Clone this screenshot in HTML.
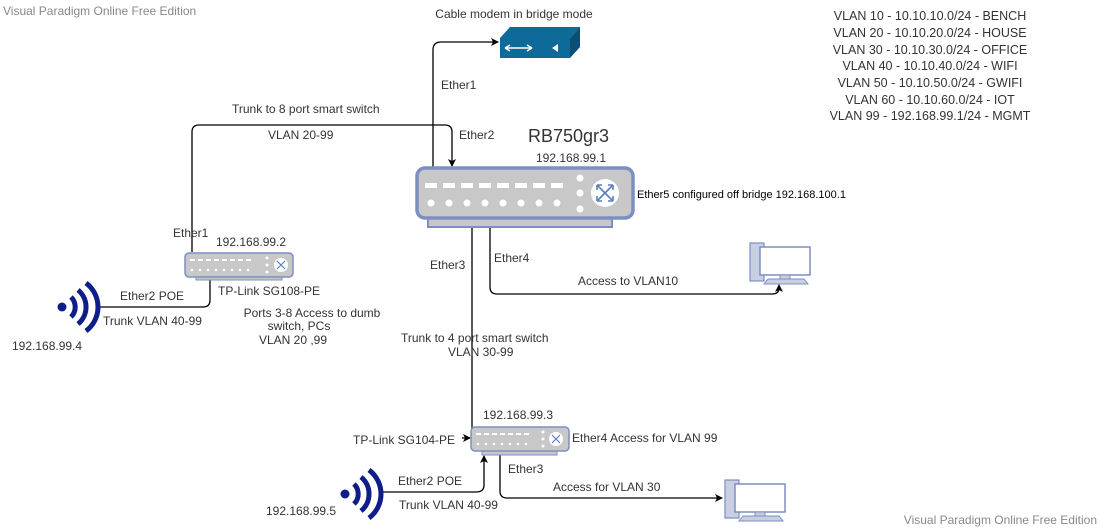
<!DOCTYPE html>
<html><head><meta charset="utf-8"><style>
body{margin:0;background:#fff;}
svg{display:block;font-family:"Liberation Sans",sans-serif;}
</style></head><body>
<svg width="1101" height="530" viewBox="0 0 1101 530" xmlns="http://www.w3.org/2000/svg">
<defs>
<marker id="a" markerWidth="8" markerHeight="8" refX="7" refY="4" orient="auto" markerUnits="userSpaceOnUse"><path d="M0,0 L8,4 L0,8 L2,4 z" fill="#000"/></marker>
<g id="pc">
<rect x="0" y="0" width="14" height="38" fill="#c8cfe0" stroke="#7d8fc0" stroke-width="1.2"/>
<rect x="10" y="4" width="50" height="28" fill="#fff" stroke="#7d8fc0" stroke-width="1.5"/>
<rect x="30" y="32" width="10" height="4" fill="#c8cfe0" stroke="#7d8fc0"/>
<path d="M18,36 L54,36 L58,41 L14,41 z" fill="#c8cfe0" stroke="#7d8fc0"/>
</g>
<g id="wifi" fill="none" stroke="#0d1d8a" stroke-width="5">
<circle cx="6" cy="24" r="4.5" fill="#0d1d8a" stroke="none"/>
<path d="M15,14 A14,14 0 0 1 15,34"/>
<path d="M22,7 A22,22 0 0 1 22,41"/>
<path d="M30,0 A30,30 0 0 1 30,48"/>
</g>
</defs>
<text x="3" y="15" font-size="12" fill="#888">Visual Paradigm Online Free Edition</text>
<text x="1097" y="524" font-size="12" fill="#888" text-anchor="end">Visual Paradigm Online Free Edition</text>

<g fill="none" stroke="#000" stroke-width="1.3">
<path d="M433,167 L433,50 Q433,42 441,42 L498,42" marker-end="url(#a)"/>
<path d="M192,252 L192,132 Q192,125 199,125 L445,125 Q452,125 452,132 L452,166" marker-end="url(#a)"/>
<path d="M472,228 L472,437" />
<path d="M462,438 L470,438" marker-end="url(#a)"/>
<path d="M490,228 L490,287 Q490,294 497,294 L772,294 Q779,294 779,288 L779,285" marker-end="url(#a)"/>
<path d="M100,307 L203,307 Q210,307 210,300 L210,270" marker-end="url(#a)"/>
<path d="M382,492 L476,492 Q484,492 484,485 L484,456" marker-end="url(#a)"/>
<path d="M500,455 L500,491 Q500,498 507,498 L722,498" marker-end="url(#a)"/>
</g>

<path d="M510,27 L580,27 L570,38 L500,38 z" fill="#0e6a99"/>
<path d="M570,38 L580,27 L580,47 L570,58 z" fill="#0a4f74"/>
<rect x="500" y="38" width="70" height="20" fill="#0e6a99"/>
<path d="M505,48 L532,48 M505,48 L510,45 M505,48 L510,51 M532,48 L527,45 M532,48 L527,51" stroke="#fff" stroke-width="1.5"/>
<path d="M552,48 L558,44 L558,52 z" fill="#fff"/>
<text x="514" y="18" font-size="12" fill="#333" text-anchor="middle">Cable modem in bridge mode</text>
<text x="441" y="89" font-size="12" fill="#333">Ether1</text>
<text x="459" y="139" font-size="12" fill="#333">Ether2</text>
<text x="232" y="113" font-size="12" fill="#333">Trunk to 8 port smart switch</text>
<text x="268" y="139" font-size="12" fill="#333">VLAN 20-99</text>

<rect x="428" y="218" width="184" height="9" fill="#c8c8c8" stroke="#7d8fc0" stroke-width="2"/>
<rect x="417" y="168" width="216" height="50" rx="8" fill="#c8c8c8" stroke="#7d8fc0" stroke-width="3.5"/>
<g fill="#fff">
<rect x="425" y="183" width="12" height="5"/><rect x="443" y="183" width="12" height="5"/><rect x="461" y="183" width="12" height="5"/><rect x="479" y="183" width="12" height="5"/><rect x="497" y="183" width="12" height="5"/><rect x="515" y="183" width="12" height="5"/><rect x="533" y="183" width="12" height="5"/><rect x="551" y="183" width="12" height="5"/>
<circle cx="431" cy="203" r="3.5"/><circle cx="449" cy="203" r="3.5"/><circle cx="467" cy="203" r="3.5"/><circle cx="485" cy="203" r="3.5"/><circle cx="503" cy="203" r="3.5"/><circle cx="521" cy="203" r="3.5"/><circle cx="539" cy="203" r="3.5"/><circle cx="557" cy="203" r="3.5"/>
<circle cx="580" cy="178" r="3.5"/><circle cx="580" cy="193" r="3.5"/><circle cx="580" cy="209" r="3.5"/>
<circle cx="605" cy="193" r="14"/>
</g>
<path d="M597,185 L613,201 M613,185 L597,201 M597,185 l0,5 M597,185 l5,0 M613,185 l0,5 M613,185 l-5,0 M597,201 l0,-5 M597,201 l5,0 M613,201 l0,-5 M613,201 l-5,0" stroke="#5b7ec0" stroke-width="1.6" fill="none"/>
<text x="528" y="142" font-size="18" fill="#333">RB750gr3</text>
<text x="536" y="162" font-size="12" fill="#333">192.168.99.1</text>
<text x="637" y="198" font-size="11" fill="#000">Ether5 configured off bridge 192.168.100.1</text>
<text x="430" y="269" font-size="12" fill="#333">Ether3</text>
<text x="494" y="262" font-size="12" fill="#333">Ether4</text>
<text x="578" y="285" font-size="12" fill="#333">Access to VLAN10</text>
<use href="#pc" x="750" y="243"/>

<g font-size="12.5" fill="#333" text-anchor="middle">
<text x="930" y="20">VLAN 10  - 10.10.10.0/24 - BENCH</text>
<text x="930" y="37">VLAN 20  - 10.10.20.0/24 - HOUSE</text>
<text x="930" y="54">VLAN 30 - 10.10.30.0/24 - OFFICE</text>
<text x="930" y="70">VLAN 40 - 10.10.40.0/24 - WIFI</text>
<text x="930" y="87">VLAN 50  - 10.10.50.0/24 - GWIFI</text>
<text x="930" y="104">VLAN 60 - 10.10.60.0/24 - IOT</text>
<text x="930" y="120">VLAN 99 - 192.168.99.1/24 - MGMT</text>
</g>

<rect x="196" y="276" width="86" height="4" fill="#c8c8c8" stroke="#7d8fc0"/>
<rect x="185" y="253" width="108" height="24" rx="4" fill="#c8c8c8" stroke="#7d8fc0" stroke-width="1.5"/>
<g fill="#fff"><rect x="190" y="259" width="5" height="2"/><rect x="198" y="259" width="5" height="2"/><rect x="206" y="259" width="5" height="2"/><rect x="214" y="259" width="5" height="2"/><rect x="222" y="259" width="5" height="2"/><rect x="230" y="259" width="5" height="2"/><rect x="238" y="259" width="5" height="2"/><rect x="246" y="259" width="5" height="2"/><circle cx="192" cy="270" r="1.3"/><circle cx="200" cy="270" r="1.3"/><circle cx="208" cy="270" r="1.3"/><circle cx="216" cy="270" r="1.3"/><circle cx="224" cy="270" r="1.3"/><circle cx="232" cy="270" r="1.3"/><circle cx="240" cy="270" r="1.3"/><circle cx="248" cy="270" r="1.3"/><circle cx="267" cy="258" r="1.5"/><circle cx="267" cy="265" r="1.5"/><circle cx="267" cy="272" r="1.5"/><circle cx="281" cy="265" r="7"/></g>
<path d="M277,261 L285,269 M285,261 L277,269" stroke="#5b7ec0" stroke-width="1.2"/>
<text x="173" y="237" font-size="12" fill="#333">Ether1</text>
<text x="216" y="246" font-size="12" fill="#333">192.168.99.2</text>
<text x="218" y="295" font-size="12" fill="#333">TP-Link SG108-PE</text>
<text x="312" y="317" font-size="12" fill="#333" text-anchor="middle">Ports 3-8 Access to dumb</text>
<text x="299" y="330" font-size="12" fill="#333" text-anchor="middle">switch, PCs</text>
<text x="293" y="344" font-size="12" fill="#333" text-anchor="middle">VLAN 20 ,99</text>
<text x="120" y="300" font-size="12" fill="#333">Ether2 POE</text>
<text x="103" y="325" font-size="12" fill="#333">Trunk VLAN 40-99</text>
<use href="#wifi" x="56" y="283"/>
<text x="12" y="350" font-size="12" fill="#333">192.168.99.4</text>

<text x="401" y="342" font-size="12" fill="#333">Trunk to 4 port smart switch</text>
<text x="448" y="356" font-size="12" fill="#333">VLAN 30-99</text>
<rect x="482" y="450" width="75" height="5" fill="#c8c8c8" stroke="#7d8fc0"/>
<rect x="471" y="427" width="98" height="24" rx="4" fill="#c8c8c8" stroke="#7d8fc0" stroke-width="1.5"/>
<g fill="#fff"><rect x="476" y="433" width="5" height="2"/><rect x="484" y="433" width="5" height="2"/><rect x="492" y="433" width="5" height="2"/><rect x="500" y="433" width="5" height="2"/><rect x="508" y="433" width="5" height="2"/><rect x="516" y="433" width="5" height="2"/><rect x="524" y="433" width="5" height="2"/><circle cx="478" cy="444" r="1.3"/><circle cx="486" cy="444" r="1.3"/><circle cx="494" cy="444" r="1.3"/><circle cx="502" cy="444" r="1.3"/><circle cx="510" cy="444" r="1.3"/><circle cx="518" cy="444" r="1.3"/><circle cx="526" cy="444" r="1.3"/><circle cx="543" cy="432" r="1.5"/><circle cx="543" cy="439" r="1.5"/><circle cx="543" cy="446" r="1.5"/><circle cx="556" cy="439" r="7"/></g>
<path d="M552,435 L560,443 M560,435 L552,443" stroke="#5b7ec0" stroke-width="1.2"/>
<text x="483" y="419" font-size="12" fill="#333">192.168.99.3</text>
<text x="353" y="444" font-size="12" fill="#333">TP-Link SG104-PE</text>
<text x="572" y="442" font-size="12" fill="#333">Ether4 Access for VLAN 99</text>
<text x="508" y="473" font-size="12" fill="#333">Ether3</text>
<text x="553" y="491" font-size="12" fill="#333">Access for VLAN 30</text>
<text x="398" y="485" font-size="12" fill="#333">Ether2 POE</text>
<text x="399" y="509" font-size="12" fill="#333">Trunk VLAN 40-99</text>
<use href="#wifi" x="339" y="470"/>
<text x="266" y="515" font-size="12" fill="#333">192.168.99.5</text>
<use href="#pc" x="725" y="480"/>
</svg>
</body></html>
